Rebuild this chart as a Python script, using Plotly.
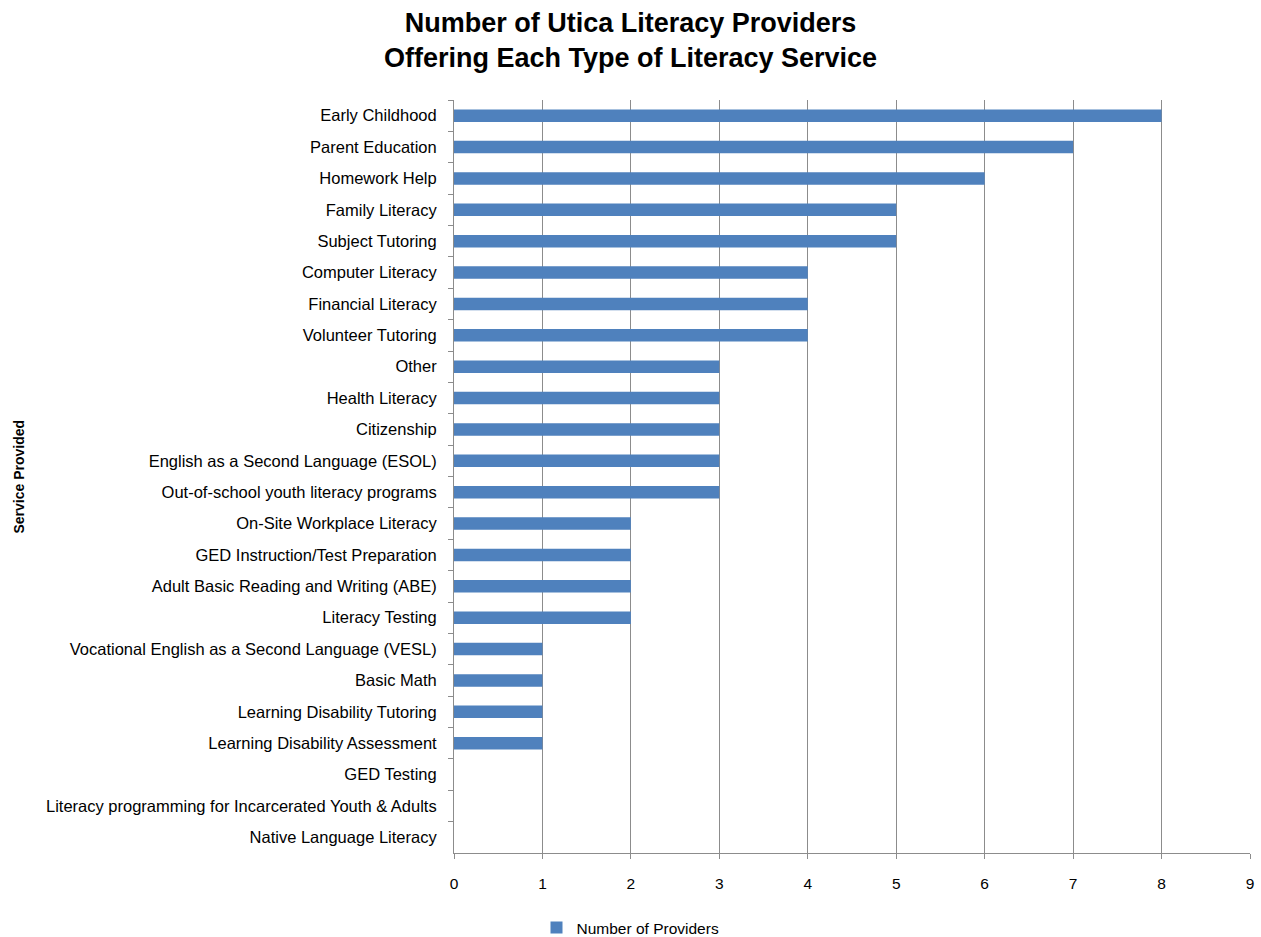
import plotly.graph_objects as go

categories = [
    "Early Childhood", "Parent Education", "Homework Help", "Family Literacy",
    "Subject Tutoring", "Computer Literacy", "Financial Literacy", "Volunteer Tutoring",
    "Other", "Health Literacy", "Citizenship", "English as a Second Language (ESOL)",
    "Out-of-school youth literacy programs", "On-Site Workplace Literacy",
    "GED Instruction/Test Preparation", "Adult Basic Reading and Writing (ABE)",
    "Literacy Testing", "Vocational English as a Second Language (VESL)", "Basic Math",
    "Learning Disability Tutoring", "Learning Disability Assessment", "GED Testing",
    "Literacy programming for Incarcerated Youth & Adults", "Native Language Literacy",
]
providers = [8, 7, 6, 5, 5, 4, 4, 4, 3, 3, 3, 3, 3, 2, 2, 2, 2, 1, 1, 1, 1, 0, 0, 0]

FONT = "Liberation Sans, Arial, sans-serif"

fig = go.Figure()
fig.add_trace(go.Bar(
    x=providers, y=categories, orientation="h",
    name="Number of Providers", marker=dict(color="#4F81BD", line=dict(width=0)),
    showlegend=True,
))

fig.update_layout(
    width=1261, height=937,
    margin=dict(l=454, r=11, t=100, b=84, autoexpand=False),
    paper_bgcolor="white", plot_bgcolor="white",
    font=dict(family=FONT, size=15, color="black"),
    bargap=0.6,
    title=dict(
        text="<b>Number of Utica Literacy Providers<br>Offering Each Type of Literacy Service</b>",
        x=0.5, xref="container", xanchor="center",
        y=1 - 32 / 937, yref="container", yanchor="middle",
        font=dict(family=FONT, size=27, color="black"),
    ),
    legend=dict(
        orientation="h", x=0.5, xanchor="center", xref="container",
        y=(937 - 928) / 937, yanchor="middle", yref="container",
        font=dict(family=FONT, size=15.5, color="black"),
        itemwidth=30,
    ),
    showlegend=True,
)

fig.update_xaxes(
    range=[0, 9], dtick=1, tick0=0,
    showgrid=True, gridcolor="#8c8c8c", gridwidth=1,
    zeroline=False,
    showline=True, linecolor="#8c8c8c", linewidth=1,
    ticks="outside", ticklen=5, tickcolor="#8c8c8c",
    tickfont=dict(family=FONT, size=15.5, color="black"),
    ticklabelstandoff=11,
)
fig.update_yaxes(
    autorange="reversed",
    showgrid=False, zeroline=False,
    showline=True, linecolor="#8c8c8c", linewidth=1,
    ticks="outside", ticklen=5, tickcolor="#8c8c8c", tickson="boundaries",
    tickfont=dict(family=FONT, size=16.5, color="black"),
    ticklabelstandoff=13,
)

fig.add_annotation(
    text="<b>Service Provided</b>", textangle=-90,
    x=(18 - 454) / (1261 - 454 - 11), xref="paper", xanchor="center",
    y=0.5, yref="paper", yanchor="middle",
    showarrow=False, font=dict(family=FONT, size=14, color="black"),
)

fig.write_html("out.html")
